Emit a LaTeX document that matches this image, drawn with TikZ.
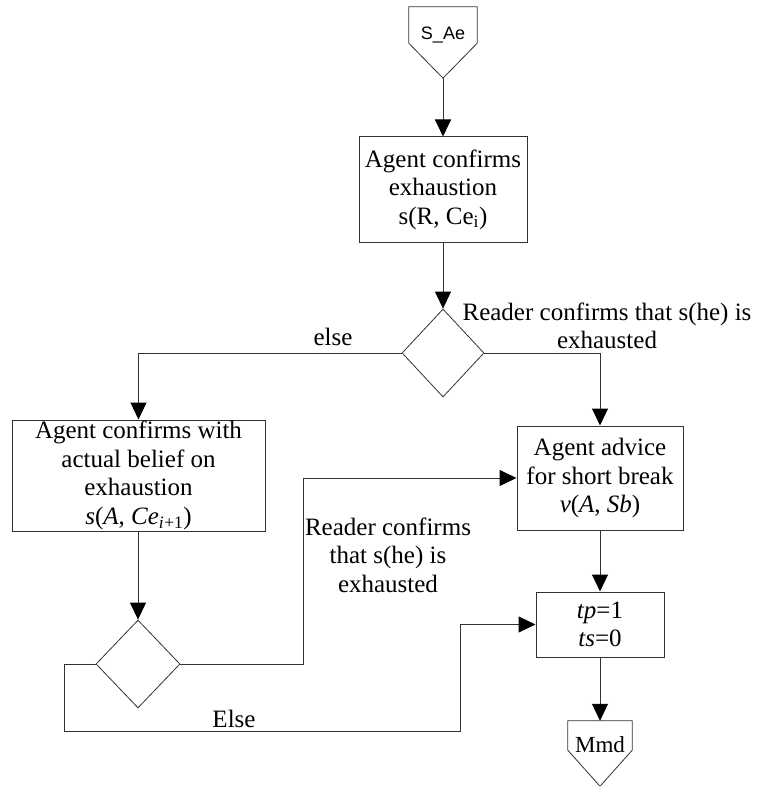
\documentclass[tikz,border=0pt]{standalone}
\usepackage{fontspec}
\usepackage{xcolor}
\usepackage{tikz}
\usetikzlibrary{shapes.geometric,arrows.meta,calc}
\setmainfont{Liberation Serif}
\newfontfamily\connfont{Liberation Sans}
\definecolor{lineGray}{RGB}{50,50,50}

\begin{document}
\begin{tikzpicture}[x=1pt, y=-1pt,
      procbox/.style={draw=lineGray, line width=1pt, inner sep=0pt, align=center,
                      font=\fontsize{25}{28.5}\selectfont},
      decision/.style={draw=lineGray, line width=0.8pt, diamond, inner sep=0pt},
      pagebox/.style={inner sep=0pt, align=center},
      lbl/.style={align=center, font=\fontsize{25}{28.5}\selectfont},
      flow/.style={-{Triangle[length=17pt,width=16pt,color=black]}, line width=1pt, draw=lineGray}
    ]
    \useasboundingbox (0,0) rectangle (756,786);

    \node[pagebox, minimum width=68pt, minimum height=36pt,
          font=\connfont\fontsize{18}{20}\selectfont] (sae) at (443,25)
      {\raisebox{-15pt}[0pt][0pt]{S\_Ae}};
    \draw[lineGray, line width=0.8pt] (sae.south west) -- (sae.north west) -- (sae.north east)
      -- (sae.south east) -- ($(sae.south)+(0,35)$) coordinate (saetip) -- cycle;

    \node[procbox, minimum width=168pt, minimum height=105pt] (box1) at (443,189.5)
      {Agent confirms\\exhaustion\\s(R, Ce\textsubscript{i})};
    \node[decision, minimum width=82pt, minimum height=88pt] (dia1) at (443,353) {};
    \node[procbox, minimum width=253pt, minimum height=111pt] (box2) at (138.5,475.5)
      {Agent confirms with\\actual belief on\\exhaustion\\\textit{s}(\textit{A}, \textit{Ce\textsubscript{i}}\textsubscript{+1})};
    \node[procbox, minimum width=166pt, minimum height=104pt] (box3) at (600,478)
      {Agent advice\\for short break\\\textit{v}(\textit{A}, \textit{Sb})};
    \node[decision, minimum width=84pt, minimum height=88pt] (dia2) at (138,664) {};
    \node[procbox, minimum width=128pt, minimum height=65pt] (box4) at (600,624.5)
      {\textit{tp}=1\\\textit{ts}=0};

    \node[pagebox, minimum width=64pt, minimum height=29pt,
          font=\fontsize{23}{25}\selectfont] (mmd) at (600,735.5)
      {\raisebox{-17pt}[0pt][0pt]{Mmd}};
    \draw[lineGray, line width=0.8pt] (mmd.south west) -- (mmd.north west) -- (mmd.north east)
      -- (mmd.south east) -- ($(mmd.south)+(0,36)$) -- cycle;

    \coordinate (bendA) at (303,664);
    \coordinate (loopL) at (64,731);
    \coordinate (loopR) at (460,731);

    \draw[flow] (saetip) -- (box1.north);
    \draw[flow] (box1.south) -- (dia1.north);
    \draw[flow] (dia1.west) -| (box2.north);
    \draw[flow] (dia1.east) -| (box3.north);
    \draw[flow] (box2.south -| dia2.north) -- (dia2.north);
    \draw[flow] (dia2.east) -- (bendA) |- (box3.west);
    \draw[flow] (dia2.west) -- (loopL |- dia2.west) -- (loopL) -- (loopR) |- (box4.west);
    \draw[flow] (box3.south) -- (box4.north);
    \draw[flow] (box4.south) -- (mmd.north);

    \node[lbl] (elseA) at (333,337) {else};
    \node[lbl] (yesA)  at (607,326) {Reader confirms that s(he) is\\exhausted};
    \node[lbl] (yesB)  at (388,555) {Reader confirms\\that s(he) is\\exhausted};
    \node[lbl] (elseB) at (234,719) {Else};
  \end{tikzpicture}
\end{document}
